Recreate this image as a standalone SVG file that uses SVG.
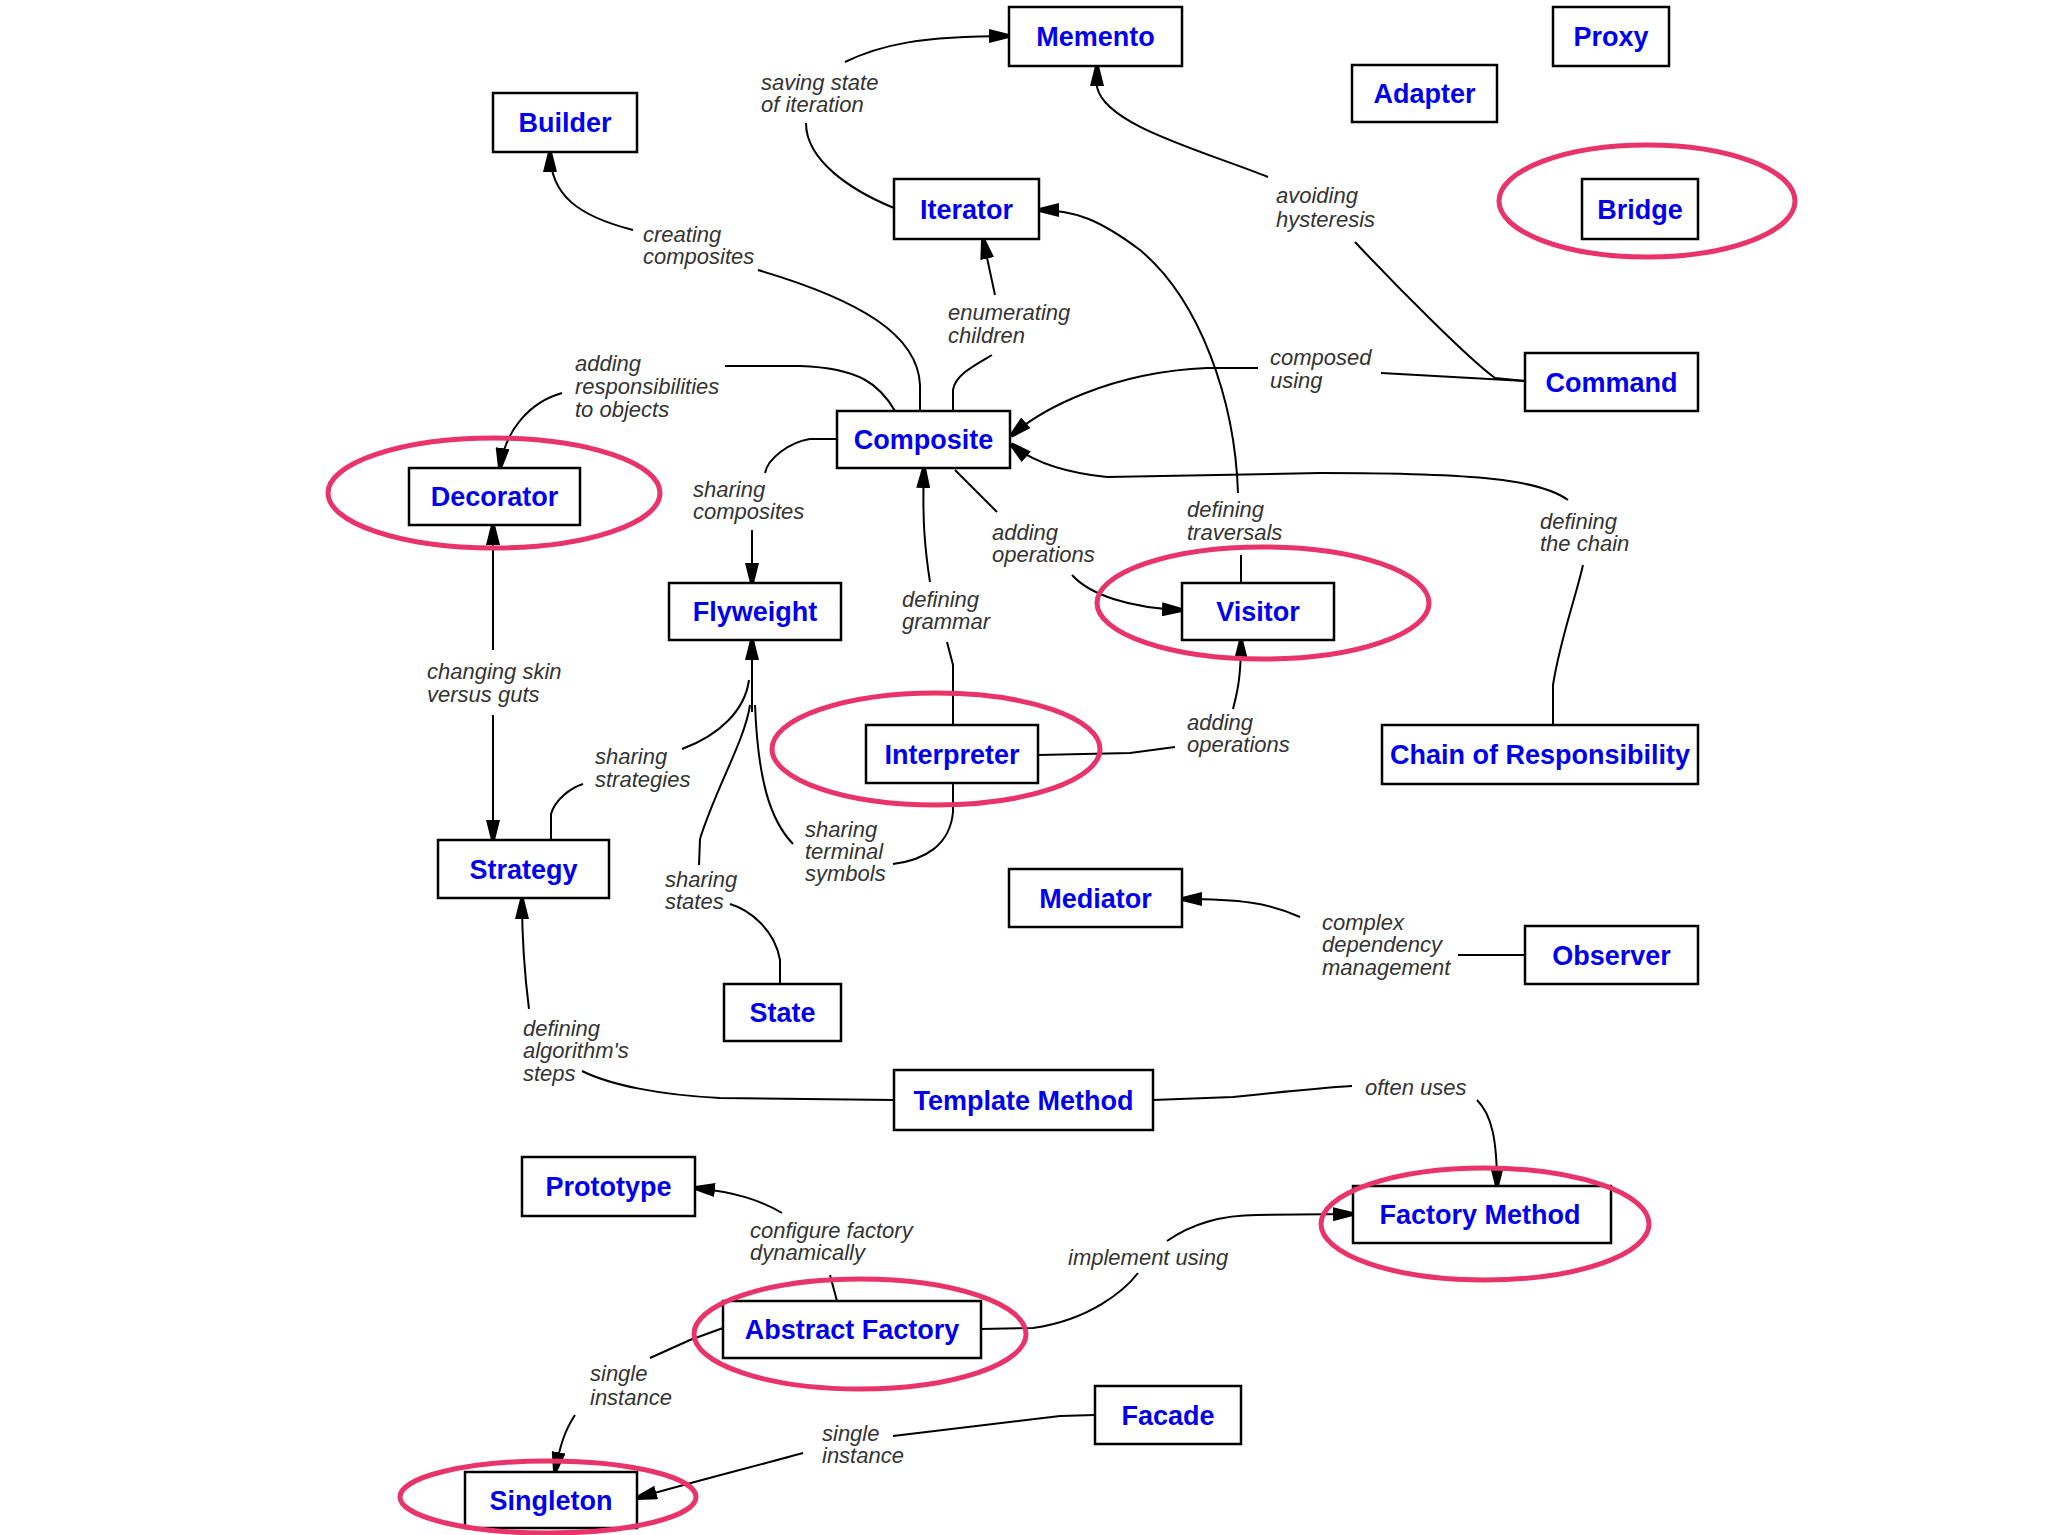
<svg xmlns="http://www.w3.org/2000/svg" width="2048" height="1535" viewBox="0 0 2048 1535">
<style>
.box{fill:#fff;stroke:#000;stroke-width:2.5}
.nt{font-family:"Liberation Sans",Arial,sans-serif;font-weight:bold;font-size:27px;fill:#0000ee;text-anchor:middle}
.lb{font-family:"Liberation Sans",Arial,sans-serif;font-style:italic;font-size:22px;fill:#333}
.c{fill:none;stroke:#000;stroke-width:2}
.hl{fill:none;stroke:#e8336b;stroke-width:5}
</style>
<defs>
<marker id="ah" markerUnits="userSpaceOnUse" viewBox="0 0 20 14" refX="20" refY="7" markerWidth="20" markerHeight="14" orient="auto">
<path d="M0,0 L20,5 L20,9 L0,14 Z" fill="#000"/>
</marker>
</defs>
<rect width="2048" height="1535" fill="#fff"/>

<g id="connectors">
<!-- Builder <- creating composites <- Composite -->
<path class="c" d="M920,411 L920,385 C918,335 860,300 758,270"/>
<path class="c" d="M633,230 C578,216 550,195 550,152" marker-end="url(#ah)"/>
<!-- Decorator <- adding responsibilities <- Composite -->
<path class="c" d="M895,411 C880,385 860,368 800,366 L725,366"/>
<path class="c" d="M562,393 C530,402 505,430 500,468" marker-end="url(#ah)"/>
<!-- Iterator <- enumerating children <- Composite -->
<path class="c" d="M953,411 L953,390 C955,375 975,365 992,355"/>
<path class="c" d="M995,295 L983,239" marker-end="url(#ah)"/>
<!-- Memento <- saving state of iteration <- Iterator -->
<path class="c" d="M894,208 C850,190 806,160 806,123"/>
<path class="c" d="M845,62 C880,45 920,36 1009,36" marker-end="url(#ah)"/>
<!-- Memento <- avoiding hysteresis <- Command -->
<path class="c" d="M1525,381 L1495,378 C1470,360 1400,290 1355,242"/>
<path class="c" d="M1268,177 C1200,150 1105,125 1097,87 L1097,66" marker-end="url(#ah)"/>
<!-- Composite <- composed using <- Command -->
<path class="c" d="M1525,381 L1381,373"/>
<path class="c" d="M1258,368 L1207,368 C1110,372 1040,410 1011,436" marker-end="url(#ah)"/>
<!-- Composite <- defining the chain <- Chain of Responsibility -->
<path class="c" d="M1553,725 L1553,685 C1560,640 1575,600 1583,565"/>
<path class="c" d="M1568,500 C1540,480 1480,473 1320,473 L1107,477 C1060,472 1030,460 1011,444" marker-end="url(#ah)"/>
<!-- Iterator <- defining traversals <- Visitor -->
<path class="c" d="M1241,583 L1241,555"/>
<path class="c" d="M1238,493 C1235,400 1200,300 1140,250 C1100,220 1075,210 1039,210" marker-end="url(#ah)"/>
<!-- Visitor <- adding operations <- Composite -->
<path class="c" d="M955,470 L997,512"/>
<path class="c" d="M1072,575 C1090,595 1130,608 1182,610" marker-end="url(#ah)"/>
<!-- Visitor <- adding operations <- Interpreter -->
<path class="c" d="M1038,755 L1130,753 L1175,747"/>
<path class="c" d="M1233,709 C1238,690 1241,675 1241,640" marker-end="url(#ah)"/>
<!-- Composite <- defining grammar <- Interpreter -->
<path class="c" d="M953,725 L953,665 L947,642"/>
<path class="c" d="M930,582 C925,550 922,520 924,468" marker-end="url(#ah)"/>
<!-- Flyweight <- sharing composites <- Composite -->
<path class="c" d="M837,439 L810,439 C790,442 768,458 765,473"/>
<path class="c" d="M752,530 L752,583" marker-end="url(#ah)"/>
<!-- Flyweight stem and branches -->
<path class="c" d="M752,712 L752,640" marker-end="url(#ah)" stroke-width="3"/>
<path class="c" d="M682,749 C720,735 745,710 749,680"/>
<path class="c" d="M551,840 L551,814 C555,800 570,788 583,784"/>
<path class="c" d="M699,865 L700,839 C715,790 745,740 750,705"/>
<path class="c" d="M793,844 C770,820 758,780 755,705"/>
<path class="c" d="M780,984 L780,960 C775,930 750,910 730,904"/>
<path class="c" d="M953,783 L953,812 C950,845 925,860 893,864"/>
<!-- Decorator <-> Strategy -->
<path class="c" d="M493,650 L493,525" marker-end="url(#ah)"/>
<path class="c" d="M493,715 L493,840" marker-end="url(#ah)"/>
<!-- Strategy <- defining algorithm's steps <- Template Method -->
<path class="c" d="M894,1100 L720,1098 C660,1095 610,1085 582,1071"/>
<path class="c" d="M529,1009 C524,970 522,940 522,899" marker-end="url(#ah)"/>
<!-- Factory Method <- often uses <- Template Method -->
<path class="c" d="M1153,1100 L1233,1097 C1280,1092 1320,1088 1352,1086"/>
<path class="c" d="M1477,1100 C1492,1115 1497,1140 1497,1186" marker-end="url(#ah)"/>
<!-- Factory Method <- implement using <- Abstract Factory -->
<path class="c" d="M981,1329 L1033,1328 C1090,1320 1125,1290 1138,1273"/>
<path class="c" d="M1167,1241 C1190,1225 1220,1215 1257,1215 L1353,1214" marker-end="url(#ah)"/>
<!-- Prototype <- configure factory dynamically <- Abstract Factory -->
<path class="c" d="M837,1301 L830,1275"/>
<path class="c" d="M782,1213 C760,1200 735,1192 695,1188" marker-end="url(#ah)"/>
<!-- Singleton <- single instance <- Abstract Factory -->
<path class="c" d="M723,1328 L690,1340 L650,1358"/>
<path class="c" d="M575,1415 C565,1430 560,1445 555,1472" marker-end="url(#ah)"/>
<!-- Singleton <- single instance <- Facade -->
<path class="c" d="M1095,1415 L1060,1416 L893,1436"/>
<path class="c" d="M803,1453 C760,1465 700,1480 637,1498" marker-end="url(#ah)"/>
<!-- Mediator <- complex dependency management <- Observer -->
<path class="c" d="M1525,955 L1458,955"/>
<path class="c" d="M1300,917 C1270,903 1240,899 1182,899" marker-end="url(#ah)"/>
</g>

<g id="labels">
<text class="lb" x="761" y="90">saving state</text>
<text class="lb" x="761" y="112">of iteration</text>
<text class="lb" x="643" y="242">creating</text>
<text class="lb" x="643" y="264">composites</text>
<text class="lb" x="948" y="320">enumerating</text>
<text class="lb" x="948" y="343">children</text>
<text class="lb" x="1276" y="203">avoiding</text>
<text class="lb" x="1276" y="227">hysteresis</text>
<text class="lb" x="575" y="371">adding</text>
<text class="lb" x="575" y="394">responsibilities</text>
<text class="lb" x="575" y="417">to objects</text>
<text class="lb" x="1270" y="365">composed</text>
<text class="lb" x="1270" y="388">using</text>
<text class="lb" x="693" y="497">sharing</text>
<text class="lb" x="693" y="519">composites</text>
<text class="lb" x="992" y="540">adding</text>
<text class="lb" x="992" y="562">operations</text>
<text class="lb" x="1187" y="517">defining</text>
<text class="lb" x="1187" y="540">traversals</text>
<text class="lb" x="1540" y="529">defining</text>
<text class="lb" x="1540" y="551">the chain</text>
<text class="lb" x="902" y="607">defining</text>
<text class="lb" x="902" y="629">grammar</text>
<text class="lb" x="427" y="679">changing skin</text>
<text class="lb" x="427" y="702">versus guts</text>
<text class="lb" x="1187" y="730">adding</text>
<text class="lb" x="1187" y="752">operations</text>
<text class="lb" x="595" y="764">sharing</text>
<text class="lb" x="595" y="787">strategies</text>
<text class="lb" x="805" y="837">sharing</text>
<text class="lb" x="805" y="859">terminal</text>
<text class="lb" x="805" y="881">symbols</text>
<text class="lb" x="665" y="887">sharing</text>
<text class="lb" x="665" y="909">states</text>
<text class="lb" x="1322" y="930">complex</text>
<text class="lb" x="1322" y="952">dependency</text>
<text class="lb" x="1322" y="975">management</text>
<text class="lb" x="523" y="1036">defining</text>
<text class="lb" x="523" y="1058">algorithm's</text>
<text class="lb" x="523" y="1081">steps</text>
<text class="lb" x="1365" y="1095">often uses</text>
<text class="lb" x="750" y="1238">configure factory</text>
<text class="lb" x="750" y="1260">dynamically</text>
<text class="lb" x="1068" y="1265">implement using</text>
<text class="lb" x="590" y="1381">single</text>
<text class="lb" x="590" y="1405">instance</text>
<text class="lb" x="822" y="1441">single</text>
<text class="lb" x="822" y="1463">instance</text>
</g>

<g id="node-memento"><rect class="box" x="1009" y="7" width="173" height="59"/><text class="nt" x="1095.5" y="46">Memento</text></g>
<g id="node-proxy"><rect class="box" x="1553" y="7" width="116" height="59"/><text class="nt" x="1611" y="46">Proxy</text></g>
<g id="node-adapter"><rect class="box" x="1352" y="65" width="145" height="57"/><text class="nt" x="1424.5" y="103">Adapter</text></g>
<g id="node-builder"><rect class="box" x="493" y="93" width="144" height="59"/><text class="nt" x="565" y="132">Builder</text></g>
<g id="node-iterator"><rect class="box" x="894" y="179" width="145" height="60"/><text class="nt" x="966.5" y="219">Iterator</text></g>
<g id="node-bridge"><rect class="box" x="1582" y="179" width="116" height="60"/><text class="nt" x="1640" y="219">Bridge</text></g>
<g id="node-command"><rect class="box" x="1525" y="353" width="173" height="58"/><text class="nt" x="1611.5" y="392">Command</text></g>
<g id="node-composite"><rect class="box" x="837" y="411" width="173" height="57"/><text class="nt" x="923.5" y="449">Composite</text></g>
<g id="node-decorator"><rect class="box" x="409" y="468" width="171" height="57"/><text class="nt" x="494.5" y="506">Decorator</text></g>
<g id="node-flyweight"><rect class="box" x="669" y="583" width="172" height="57"/><text class="nt" x="755" y="621">Flyweight</text></g>
<g id="node-visitor"><rect class="box" x="1182" y="583" width="152" height="57"/><text class="nt" x="1258" y="621">Visitor</text></g>
<g id="node-interpreter"><rect class="box" x="866" y="725" width="172" height="58"/><text class="nt" x="952" y="764">Interpreter</text></g>
<g id="node-chain"><rect class="box" x="1382" y="725" width="316" height="59"/><text class="nt" x="1540" y="764">Chain of Responsibility</text></g>
<g id="node-strategy"><rect class="box" x="438" y="840" width="171" height="58"/><text class="nt" x="523.5" y="879">Strategy</text></g>
<g id="node-mediator"><rect class="box" x="1009" y="869" width="173" height="58"/><text class="nt" x="1095.5" y="908">Mediator</text></g>
<g id="node-observer"><rect class="box" x="1525" y="926" width="173" height="58"/><text class="nt" x="1611.5" y="965">Observer</text></g>
<g id="node-state"><rect class="box" x="724" y="984" width="117" height="57"/><text class="nt" x="782.5" y="1022">State</text></g>
<g id="node-template-method"><rect class="box" x="894" y="1070" width="259" height="60"/><text class="nt" x="1023.5" y="1110">Template Method</text></g>
<g id="node-prototype"><rect class="box" x="522" y="1157" width="173" height="59"/><text class="nt" x="608.5" y="1196">Prototype</text></g>
<g id="node-factory-method"><rect class="box" x="1353" y="1186" width="258" height="57"/><text class="nt" x="1480" y="1224">Factory Method</text></g>
<g id="node-abstract-factory"><rect class="box" x="723" y="1301" width="258" height="57"/><text class="nt" x="852" y="1339">Abstract Factory</text></g>
<g id="node-facade"><rect class="box" x="1095" y="1386" width="146" height="58"/><text class="nt" x="1168" y="1425">Facade</text></g>
<g id="node-singleton"><rect class="box" x="465" y="1472" width="172" height="56"/><text class="nt" x="551" y="1510">Singleton</text></g>

<g id="highlights">
<ellipse class="hl" cx="1647" cy="201" rx="148" ry="56"/>
<ellipse class="hl" cx="494" cy="493" rx="166" ry="55"/>
<ellipse class="hl" cx="1263" cy="603" rx="166" ry="56"/>
<ellipse class="hl" cx="936" cy="749" rx="164" ry="56"/>
<ellipse class="hl" cx="1485" cy="1224" rx="164" ry="56"/>
<ellipse class="hl" cx="860" cy="1334" rx="166" ry="55"/>
<ellipse class="hl" cx="548" cy="1497" rx="148" ry="36"/>
</g>
</svg>
